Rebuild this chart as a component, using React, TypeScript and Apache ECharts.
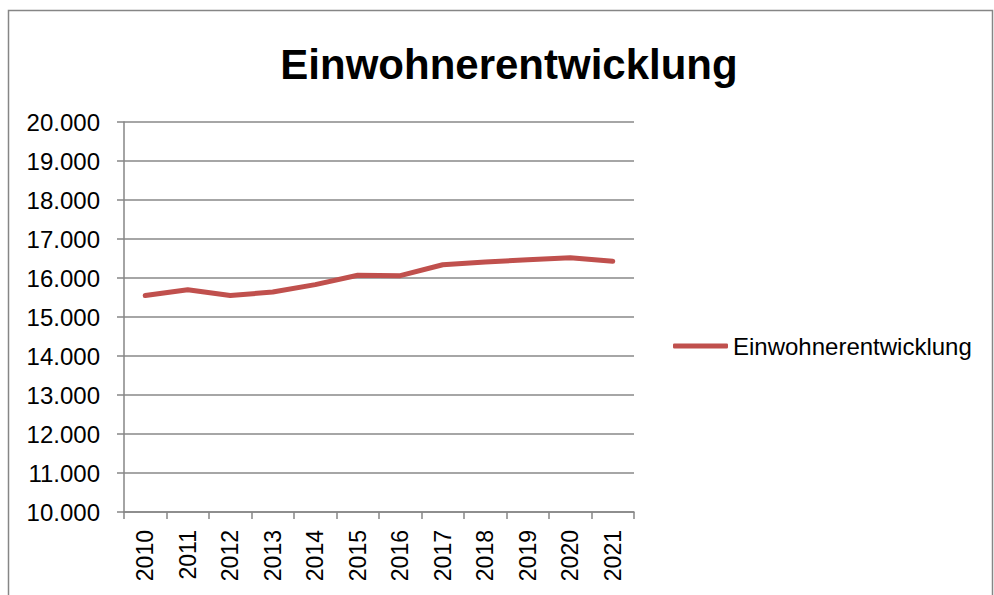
import React, { useEffect, useRef } from "react";
import * as echarts from "echarts";

const years = ["2010", "2011", "2012", "2013", "2014", "2015", "2016", "2017", "2018", "2019", "2020", "2021"];
const einwohner = [15550, 15700, 15550, 15640, 15830, 16070, 16060, 16340, 16410, 16470, 16520, 16430];
const seriesName = "Einwohnerentwicklung";
const titleText = "Einwohnerentwicklung";

const fmt = (v: number) => String(v).replace(/\B(?=(\d{3})+(?!\d))/g, ".");

export default function App() {
  const ref = useRef<HTMLDivElement>(null);
  useEffect(() => {
    if (!ref.current) return;
    const chart = echarts.init(ref.current, null, { renderer: "svg" });
    const font = "'Liberation Sans', Arial, sans-serif";
    chart.setOption({
      animation: false,
      backgroundColor: "#ffffff",
      textStyle: { fontFamily: font },
      title: {
        text: titleText,
        left: 504,
        top: 59,
        textAlign: "center",
        textVerticalAlign: "middle",
        textStyle: { fontSize: 42, fontWeight: "bold", color: "#000", fontFamily: font },
      },
      graphic: [
        {
          type: "rect",
          shape: { x: 8.5, y: 10.5, width: 984, height: 600 },
          style: { fill: "none", stroke: "#868686", lineWidth: 1.5 },
          silent: true,
        },
      ],
      legend: {
        orient: "vertical",
        left: 673,
        top: 334,
        padding: 0,
        icon: "roundRect",
        itemWidth: 55,
        itemHeight: 5,
        itemGap: 5,
        textStyle: { fontSize: 24, color: "#000", fontFamily: font },
        data: [seriesName],
      },
      grid: { left: 124, right: 360, top: 122, bottom: 83, containLabel: false },
      xAxis: {
        type: "category",
        data: years,
        boundaryGap: true,
        axisLine: { lineStyle: { color: "#868686", width: 1.5 } },
        axisTick: { show: true, length: 7, alignWithLabel: false, lineStyle: { color: "#868686", width: 1.5 } },
        axisLabel: { rotate: 90, margin: 18, fontSize: 23, color: "#000", fontFamily: font, interval: 0 },
        splitLine: { show: false },
      },
      yAxis: {
        type: "value",
        min: 10000,
        max: 20000,
        interval: 1000,
        axisLine: { show: true, lineStyle: { color: "#868686", width: 1.5 } },
        axisTick: { show: true, length: 7, lineStyle: { color: "#868686", width: 1.5 } },
        axisLabel: { margin: 24, fontSize: 24, color: "#000", fontFamily: font, formatter: (v: number) => fmt(v) },
        splitLine: { show: true, lineStyle: { color: "#888888", width: 1.5 } },
      },
      series: [
        {
          name: seriesName,
          type: "line",
          data: einwohner,
          symbol: "none",
          showSymbol: false,
          color: "#C0504D",
          lineStyle: { color: "#C0504D", width: 5, cap: "round", join: "round" },
          itemStyle: { color: "#C0504D" },
        },
      ],
    });
    return () => chart.dispose();
  }, []);
  return <div ref={ref} style={{ position: "fixed", left: 0, top: 0, width: 994, height: 595 }} />;
}
